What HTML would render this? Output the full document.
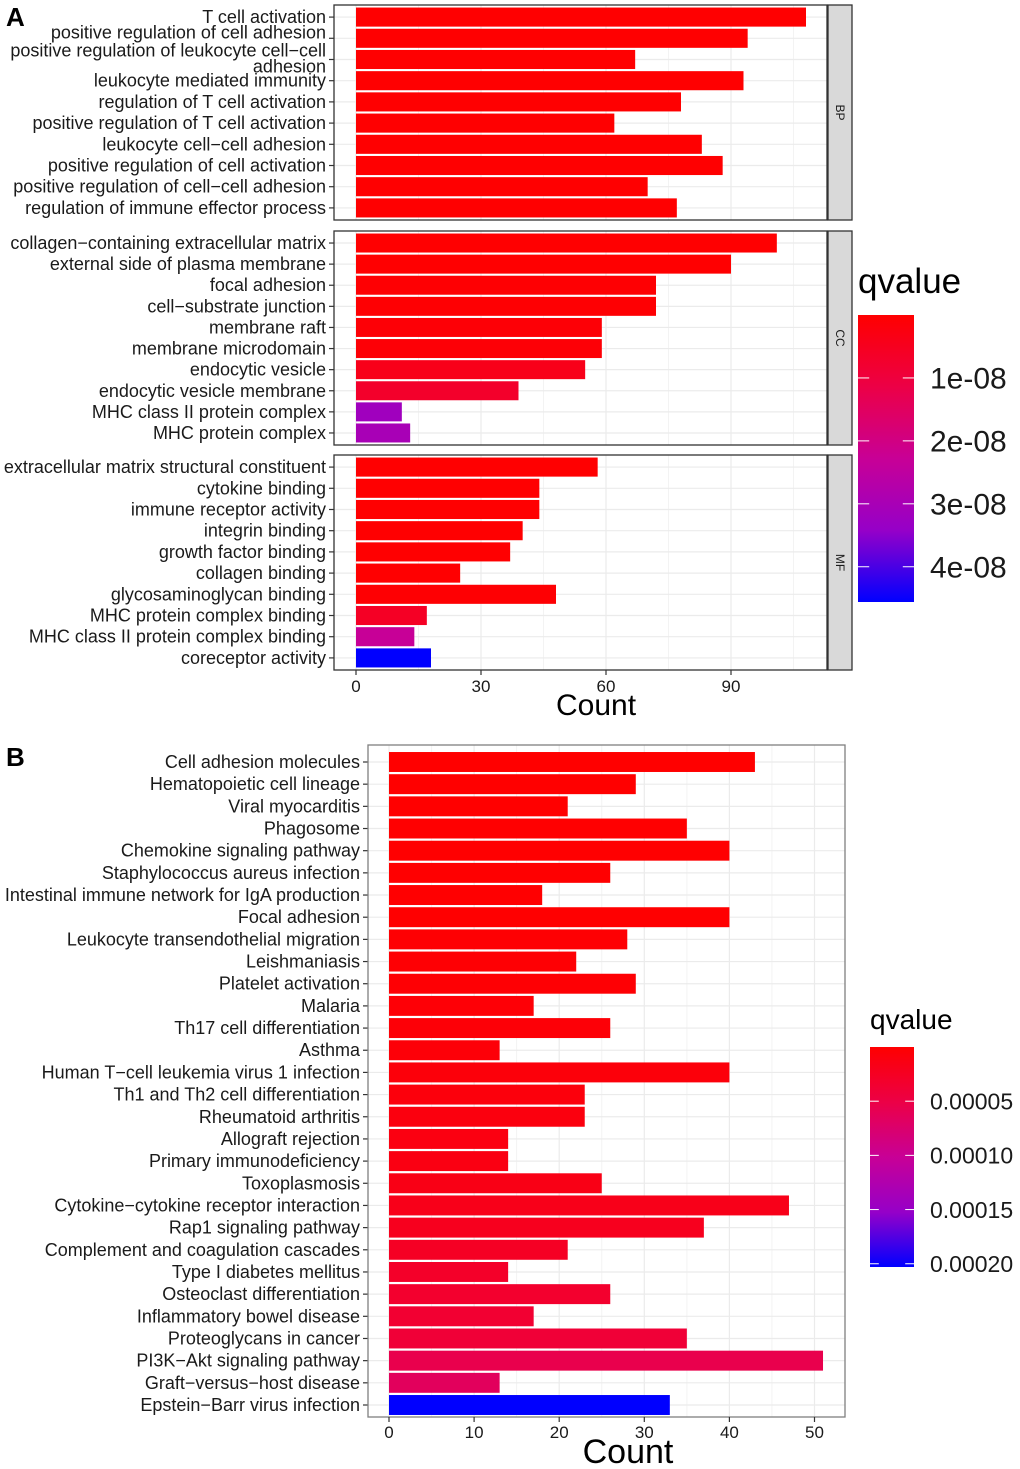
<!DOCTYPE html>
<html><head><meta charset="utf-8">
<style>
html,body{margin:0;padding:0;background:#fff;}
svg{display:block;font-family:"Liberation Sans",Arial,sans-serif;}
</style></head>
<body>
<svg id="chart" width="1020" height="1469" viewBox="0 0 1020 1469"></svg>
<script>
// ---------- Panel A data ----------
const bpTerms = ["T cell activation","positive regulation of cell adhesion","positive regulation of leukocyte cell\u2212cell|adhesion","leukocyte mediated immunity","regulation of T cell activation","positive regulation of T cell activation","leukocyte cell\u2212cell adhesion","positive regulation of cell activation","positive regulation of cell\u2212cell adhesion","regulation of immune effector process"];
const bpCounts = [108,94,67,93,78,62,83,88,70,77];
const bpQ = [0.1e-9,0.1e-9,0.1e-9,0.1e-9,0.1e-9,0.1e-9,0.1e-9,0.1e-9,0.1e-9,0.1e-9];
const ccTerms = ["collagen\u2212containing extracellular matrix","external side of plasma membrane","focal adhesion","cell\u2212substrate junction","membrane raft","membrane microdomain","endocytic vesicle","endocytic vesicle membrane","MHC class II protein complex","MHC protein complex"];
const ccCounts = [101,90,72,72,59,59,55,39,11,13];
const ccQ = [0.1e-9,0.1e-9,0.5e-9,0.5e-9,1e-9,1e-9,4e-9,7e-9,3.2e-8,3.0e-8];
const mfTerms = ["extracellular matrix structural constituent","cytokine binding","immune receptor activity","integrin binding","growth factor binding","collagen binding","glycosaminoglycan binding","MHC protein complex binding","MHC class II protein complex binding","coreceptor activity"];
const mfCounts = [58,44,44,40,37,25,48,17,14,18];
const mfQ = [0.1e-9,0.1e-9,0.1e-9,0.1e-9,0.1e-9,0.1e-9,0.5e-9,6e-9,2.3e-8,4.56e-8];
const aTicks = [0,30,60,90];
const aLegendTicks = [1e-8,2e-8,3e-8,4e-8];
const aLegendLabels = ["1e-08","2e-08","3e-08","4e-08"];
const facetNames = ["BP","CC","MF"];

// ---------- Panel B data ----------
const keggTerms = ["Cell adhesion molecules","Hematopoietic cell lineage","Viral myocarditis","Phagosome","Chemokine signaling pathway","Staphylococcus aureus infection","Intestinal immune network for IgA production","Focal adhesion","Leukocyte transendothelial migration","Leishmaniasis","Platelet activation","Malaria","Th17 cell differentiation","Asthma","Human T\u2212cell leukemia virus 1 infection","Th1 and Th2 cell differentiation","Rheumatoid arthritis","Allograft rejection","Primary immunodeficiency","Toxoplasmosis","Cytokine\u2212cytokine receptor interaction","Rap1 signaling pathway","Complement and coagulation cascades","Type I diabetes mellitus","Osteoclast differentiation","Inflammatory bowel disease","Proteoglycans in cancer","PI3K\u2212Akt signaling pathway","Graft\u2212versus\u2212host disease","Epstein\u2212Barr virus infection"];
const keggCounts = [43,29,21,35,40,26,18,40,28,22,29,17,26,13,40,23,23,14,14,25,47,37,21,14,26,17,35,51,13,33];
const keggQ = [1e-7,2e-7,3e-7,4e-7,5e-7,6e-7,1e-6,1e-6,2e-6,3e-6,3e-6,4e-6,5e-6,6e-6,7e-6,9e-6,1e-5,1.2e-5,1.3e-5,1.5e-5,1.8e-5,2.2e-5,2.6e-5,3e-5,3.3e-5,3.6e-5,4e-5,5.5e-5,6.5e-5,2.03e-4];
const bTicks = [0,10,20,30,40,50];
const bLegendTicks = [0.00005,0.0001,0.00015,0.0002];
const bLegendLabels = ["0.00005","0.00010","0.00015","0.00020"];

const NS = "http://www.w3.org/2000/svg";
const svg = document.getElementById("chart");
function mk(tag, attrs, parent){const e=document.createElementNS(NS,tag);for(const k in attrs)e.setAttribute(k,attrs[k]);(parent||svg).appendChild(e);return e;}
const stops=[[255,0,0],[236,0,70],[200,0,150],[150,0,200],[0,0,255]];
function qColor(t){t=Math.max(0,Math.min(1,t));const p=t*(stops.length-1);const i=Math.min(stops.length-2,Math.floor(p));const f=p-i;const c=stops[i].map((v,k)=>Math.round(v+(stops[i+1][k]-v)*f));return "rgb("+c.join(",")+")";}

// ---------- Panel A ----------
const aX0=356, aPx=125/30, aLeft=334, aRight=827, aQmax=4.56e-8;
const ax = v => aX0 + v*aPx;
const panels=[{terms:bpTerms,counts:bpCounts,q:bpQ,top:5,bot:220},{terms:ccTerms,counts:ccCounts,q:ccQ,top:231,bot:445},{terms:mfTerms,counts:mfCounts,q:mfQ,top:455,bot:670}];
let t=mk("text",{x:6,y:26,"font-size":26,"font-weight":"bold"});t.textContent="A";


panels.forEach((p,pi)=>{
  const n=p.terms.length, step=(p.bot-p.top)/(n+0.14);
  const g=mk("g",{});
  
  
  mk("rect",{x:aLeft,y:p.top,width:aRight-aLeft,height:p.bot-p.top,fill:"#fff"},g);
  for(let v=15;v<120;v+=30) mk("line",{x1:ax(v),x2:ax(v),y1:p.top,y2:p.bot,stroke:"#f3f3f3","stroke-width":1},g);
  aTicks.forEach(v=>mk("line",{x1:ax(v),x2:ax(v),y1:p.top,y2:p.bot,stroke:"#ebebeb","stroke-width":1.2},g));
  p.terms.forEach((term,i)=>{
    const c=p.top+step*(0.57+i);
    mk("line",{x1:aLeft,x2:aRight,y1:c,y2:c,stroke:"#ebebeb","stroke-width":1.2},g);
    const b=mk("rect",{x:ax(0),y:c-step*0.45,width:ax(p.counts[i])-ax(0),height:step*0.9,fill:qColor(p.q[i]/aQmax)},g);
    
    
    mk("line",{x1:329,x2:334,y1:c,y2:c,stroke:"#333","stroke-width":1.2},g);
    const parts=term.split("|");
    const shift=(pi===0&&i===1)?-6:0;
    parts.forEach((s,k)=>{
      const tx=mk("text",{x:326,y:c+6+shift+(parts.length>1?(k===0?-9:7):0),"font-size":18,"text-anchor":"end",fill:"#1a1a1a"},g);
      tx.textContent=s;
    });
  });
  mk("rect",{x:aLeft,y:p.top,width:aRight-aLeft,height:p.bot-p.top,fill:"none",stroke:"#333","stroke-width":1.3},g);
  const st=mk("rect",{x:aRight+1,y:p.top,width:24,height:p.bot-p.top,fill:"#d9d9d9",stroke:"#333","stroke-width":1.3},g);
  
  
  const cyS=(p.top+p.bot)/2;
  const sl=mk("text",{x:aRight+13,y:cyS,"font-size":12,"text-anchor":"middle",transform:"rotate(90 "+(aRight+13)+" "+cyS+")","dominant-baseline":"central",fill:"#1a1a1a"},g);
  sl.textContent=facetNames[pi];
});
aTicks.forEach(v=>{
  mk("line",{x1:ax(v),x2:ax(v),y1:670,y2:675,stroke:"#333","stroke-width":1.2});
  const tx=mk("text",{x:ax(v),y:692,"font-size":17,"text-anchor":"middle",fill:"#1a1a1a"});tx.textContent=v;
});
t=mk("text",{x:596,y:715,"font-size":30,"text-anchor":"middle"});t.textContent="Count";


function legend(x,yTop,yBot,w,qmax,ticks,labels,title,titleY,titleSize,labSize,id){
  const defs=mk("defs",{});
  const lg=mk("linearGradient",{id:id,x1:0,y1:0,x2:0,y2:1},defs);
  for(let k=0;k<=20;k++) mk("stop",{offset:(k/20),"stop-color":qColor(k/20)},lg);
  const g=mk("g",{});
  
  
  const tt=mk("text",{x:x,y:titleY,"font-size":titleSize,fill:"#000"},g);tt.textContent=title;
  mk("rect",{x:x,y:yTop,width:w,height:yBot-yTop,fill:"url(#"+id+")"},g);
  ticks.forEach((v,i)=>{
    const yy=yTop+(yBot-yTop)*v/qmax;
    mk("line",{x1:x,x2:x+w*0.2,y1:yy,y2:yy,stroke:"#fff","stroke-width":1});
    mk("line",{x1:x+w*0.8,x2:x+w,y1:yy,y2:yy,stroke:"#fff","stroke-width":1});
    const l=mk("text",{x:x+w+16,y:yy+labSize*0.36,"font-size":labSize,fill:"#1a1a1a"},g);l.textContent=labels[i];
  });
}
legend(858,315,602,56,aQmax,aLegendTicks,aLegendLabels,"qvalue",293,35,30,"gradA");

// ---------- Panel B ----------
const bX0=389, bPx=8.51, bLeft=368, bRight=845, bTop=745, bBot=1417, bQmax=2.03e-4;
const bx=v=>bX0+v*bPx;
t=mk("text",{x:6,y:766,"font-size":26,"font-weight":"bold"});t.textContent="B";


const gb=mk("g",{});


mk("rect",{x:bLeft,y:bTop,width:bRight-bLeft,height:bBot-bTop,fill:"#fff"},gb);
for(let v=5;v<55;v+=10) mk("line",{x1:bx(v),x2:bx(v),y1:bTop,y2:bBot,stroke:"#f3f3f3","stroke-width":1},gb);
bTicks.forEach(v=>mk("line",{x1:bx(v),x2:bx(v),y1:bTop,y2:bBot,stroke:"#ebebeb","stroke-width":1.2},gb));
const bn=keggTerms.length, bStep=(1405-762)/(bn-1);
keggTerms.forEach((term,i)=>{
  const c=762+i*bStep;
  mk("line",{x1:bLeft,x2:bRight,y1:c,y2:c,stroke:"#ebebeb","stroke-width":1.2},gb);
  const b=mk("rect",{x:bx(0),y:c-bStep*0.45,width:bx(keggCounts[i])-bx(0),height:bStep*0.9,fill:qColor(keggQ[i]/bQmax)},gb);
  
  
  mk("line",{x1:363,x2:368,y1:c,y2:c,stroke:"#333","stroke-width":1.2},gb);
  const tx=mk("text",{x:360,y:c+6,"font-size":18,"text-anchor":"end",fill:"#1a1a1a"},gb);tx.textContent=term;
});
mk("rect",{x:bLeft,y:bTop,width:bRight-bLeft,height:bBot-bTop,fill:"none",stroke:"#7f7f7f","stroke-width":1.3},gb);
bTicks.forEach(v=>{
  mk("line",{x1:bx(v),x2:bx(v),y1:bBot,y2:bBot+5,stroke:"#333","stroke-width":1.2});
  const tx=mk("text",{x:bx(v),y:1438,"font-size":17,"text-anchor":"middle",fill:"#1a1a1a"});tx.textContent=v;
});
t=mk("text",{x:628,y:1463,"font-size":34,"text-anchor":"middle"});t.textContent="Count";


legend(870,1047,1267,44,bQmax,bLegendTicks,bLegendLabels,"qvalue",1029,28,23,"gradB");
</script>
</body></html>
